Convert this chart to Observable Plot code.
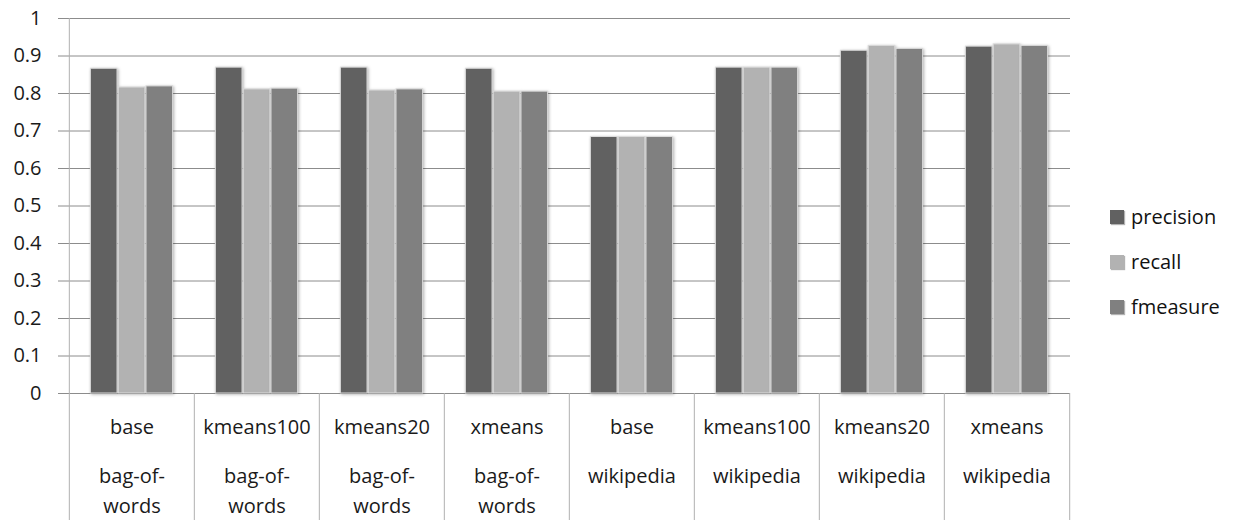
<!DOCTYPE html>
<html><head><meta charset="utf-8">
<script src="https://cdn.jsdelivr.net/npm/d3@7"></script>
<script src="https://cdn.jsdelivr.net/npm/@observablehq/plot@0.6"></script>
<style>
body{margin:0;background:#fff;font-family:"Open Sans",sans-serif}
#wrap{position:relative;width:1241px;height:520px}
#legend{position:absolute;left:1110px;top:194px;font-size:20px;color:#111}
.item{display:flex;align-items:center;height:45px}
.sw{width:14px;height:14px;margin-right:7px;box-shadow:1px 1px 1px rgba(0,0,0,.3)}
svg g[aria-label="bar"] rect{filter:drop-shadow(1px 1px 1.5px rgba(0,0,0,0.3))}
</style></head><body><div id="wrap"></div>
<script>
const methods = ["base","kmeans100","kmeans20","xmeans","base","kmeans100","kmeans20","xmeans"];
const labelLine2 = ["bag-of-","bag-of-","bag-of-","bag-of-","wikipedia","wikipedia","wikipedia","wikipedia"];
const labelLine3 = ["words","words","words","words","","","",""];
const keys = methods.map((m, i) => m + " / " + (i < 4 ? "bag-of-words" : "wikipedia"));
const series = ["precision","recall","fmeasure"];
const colors = ["#616161","#b2b2b2","#808080"];
const precision = [0.866,0.869,0.869,0.866,0.684,0.869,0.914,0.925];
const recall    = [0.816,0.811,0.808,0.805,0.684,0.869,0.927,0.931];
const fmeasure  = [0.819,0.813,0.811,0.805,0.684,0.869,0.919,0.927];
const yTicks = [0,0.1,0.2,0.3,0.4,0.5,0.6,0.7,0.8,0.9,1];

const values = [precision, recall, fmeasure];
const W = 1241, H = 520, mL = 67, mR = 171, mT = 18, mB = 127;
const step = (W - mL - mR) / keys.length;
const barW = 27, gap = 27.8;

const rows = keys.map((k, i) => ({key: k, i}));
const barMarks = series.map((s, j) => Plot.barY(rows, {
  x: "key", y: d => values[j][d.i], fill: colors[j],
  stroke: "#dcdcdc", strokeWidth: 1,
  insetLeft: (step - barW) / 2, insetRight: (step - barW) / 2,
  dx: (j - 1) * gap
}));

const chart = Plot.plot({
  width: W, height: H,
  marginLeft: mL, marginRight: mR, marginTop: mT, marginBottom: mB,
  style: {fontFamily: "Open Sans, sans-serif", fontSize: "20px", color: "#1a1a1a", background: "#fff"},
  x: {domain: keys, padding: 0, axis: null},
  y: {domain: [0, 1], axis: null},
  marks: [
    Plot.ruleY(yTicks, {stroke: "#8c8c8c", strokeWidth: 1, insetLeft: -9}),
    Plot.axisY({ticks: yTicks, tickSize: 0, tickPadding: 26, tickFormat: d => String(+d.toFixed(1)), fontSize: 20, fill: "#1a1a1a"}),
    ...barMarks,
    Plot.ruleX([keys[0]], {dx: -step / 2, stroke: "#b0b0b0", insetBottom: -mB}),
    Plot.ruleX(keys.slice(1), {dx: -step / 2, y1: 0, y2: 0, stroke: "#b0b0b0", insetBottom: -mB}),
    Plot.ruleX([keys[keys.length - 1]], {dx: step / 2, y1: 0, y2: 0, stroke: "#b0b0b0", insetBottom: -mB}),
    Plot.text(rows, {x: "key", text: d => methods[d.i], frameAnchor: "bottom", lineAnchor: "middle", dy: 34, fontSize: 20, fill: "#1a1a1a"}),
    Plot.text(rows, {x: "key", text: d => labelLine2[d.i], frameAnchor: "bottom", lineAnchor: "middle", dy: 83, fontSize: 20, fill: "#1a1a1a"}),
    Plot.text(rows, {x: "key", text: d => labelLine3[d.i], frameAnchor: "bottom", lineAnchor: "middle", dy: 113, fontSize: 20, fill: "#1a1a1a"})
  ]
});
const wrap = document.getElementById("wrap");
wrap.appendChild(chart);
const legend = document.createElement("div");
legend.id = "legend";
series.forEach((s, j) => {
  const it = document.createElement("div"); it.className = "item";
  const sw = document.createElement("span"); sw.className = "sw"; sw.style.background = colors[j];
  const tx = document.createElement("span"); tx.textContent = s;
  it.appendChild(sw); it.appendChild(tx); legend.appendChild(it);
});
wrap.appendChild(legend);
</script>
</body></html>
